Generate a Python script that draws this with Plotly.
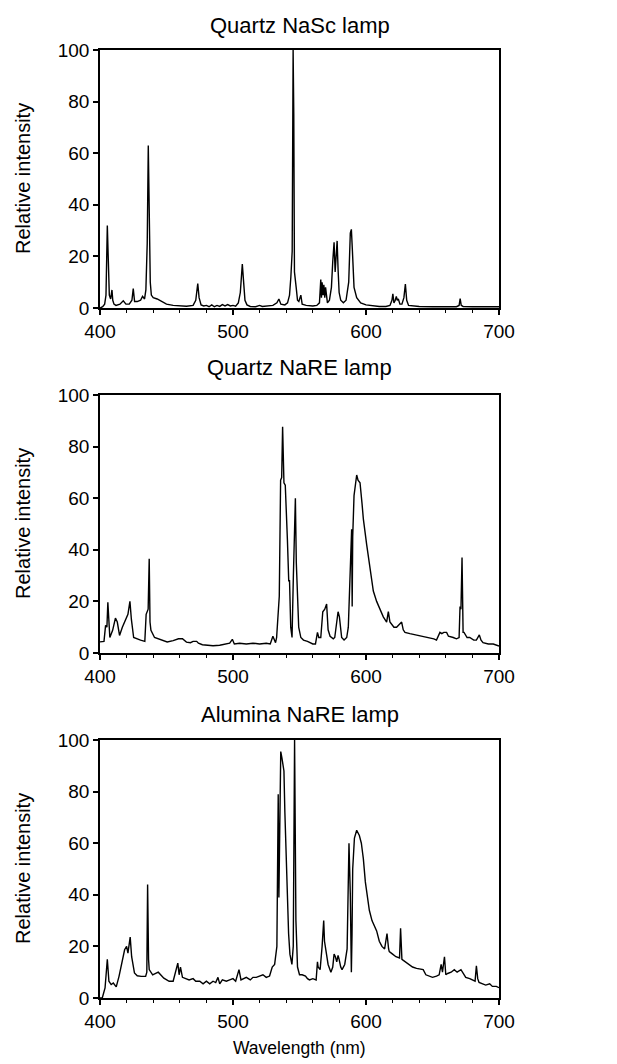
import plotly.graph_objects as go

# ---------------- data ----------------
titles = ["Quartz NaSc lamp", "Quartz NaRE lamp", "Alumina NaRE lamp"]
x_ticks = [400, 500, 600, 700]
y_ticks = [0, 20, 40, 60, 80, 100]

nasc_wl = [400, 402, 403.5, 404.5, 405.5, 406.3, 407, 408, 409, 409.6, 410.5, 412, 415, 417.5,
           419.5, 422, 424, 425, 426, 428, 430.5, 432, 433.5, 434.5, 435.5, 436.3, 437, 437.8,
           438.6, 440, 443, 446, 450, 455, 460, 465, 470, 472, 473.5, 474.5, 476, 478, 480, 482,
           484, 486, 488, 490, 492, 494, 496, 498, 500, 502, 504, 505.5, 507, 508, 509, 510.5,
           513, 517, 520, 522, 525, 530, 533, 534.5, 536, 539, 541, 542.5, 543.5, 544.5, 545.2,
           545.7, 546.2, 546.8, 547.5, 548.5, 549.5, 551, 552, 555, 560, 563, 565, 566, 566.5,
           567, 567.7, 568.3, 569, 569.6, 570.3, 571, 572.5, 574, 575, 576, 576.8, 577.6, 578.3,
           579, 579.8, 581, 583, 585, 587, 588.2, 589, 589.8, 591, 593, 596, 600, 605, 610, 615,
           618, 619.5, 620.2, 621, 622, 622.8, 623.5, 624.3, 625.5, 627, 628.5, 629.6, 630.6,
           632, 636, 640, 650, 660, 668, 670, 670.8, 671.6, 673, 680, 690, 700]
nasc_int = [0, 0.5, 1.5, 5, 32, 12, 5, 3.5, 7, 3, 1.5, 1, 1.5, 2.8,
            1.5, 1.5, 3, 7.5, 2.5, 2.5, 3, 4.5, 3.5, 7, 25, 63, 28, 10,
            5, 4, 3.5, 2.5, 1.5, 1, 0.8, 0.7, 1, 3, 9.5, 4, 1.2, 0.8, 1, 0.5,
            1.2, 0.5, 1, 0.6, 1.3, 0.8, 1.3, 0.8, 1, 0.7, 2, 6, 17, 8, 3, 1.2,
            0.6, 0.5, 1, 0.6, 0.8, 1, 2, 3.5, 1.5, 1.2, 2, 5, 12, 22, 100,
            75, 14, 12, 8, 3, 2.5, 5, 1.5, 1, 0.8, 1, 2, 11, 4,
            10, 5, 9, 4, 8, 3, 2, 3, 8, 18, 25.5, 14, 20, 26,
            15, 6, 3, 2, 3, 10, 29, 30.5, 22, 8, 4, 2, 1.2, 0.8, 0.6, 0.6,
            1, 3, 5.5, 2, 3, 4.5, 3, 3.5, 1.5, 1.5, 4, 9.3, 3,
            1, 0.7, 0.6, 0.5, 0.4, 0.5, 1, 3.6, 1, 0.6, 0.5, 0.4, 0.5]

qnare_wl = [400, 403, 404.2, 405.2, 405.9, 406.6, 407.4, 409.5, 411.6, 413, 414.7, 416.8, 419,
            421, 422.5, 423.6, 425.3, 427.4, 430.5, 433.7, 434.7, 436.2, 437, 437.6, 438.3, 441,
            446, 450.5, 455, 459, 462, 465, 468, 470, 472.7, 474, 477, 480,
            485, 490, 495, 497.5, 499.5, 501, 505, 510, 515, 520, 525, 528, 530, 531, 532,
            532.8, 533.8, 534.8, 535.8, 536.6, 537.3, 538.3, 539.3, 540.2, 540.9, 541.9, 542.5,
            543.4, 544.4, 545.4, 546.2, 546.9, 547.6, 548.4, 549.4, 551, 553, 556, 560, 562,
            563.5, 564.5, 566, 567.5, 569, 570.4, 571.5, 573, 575.4, 576.5, 578, 579, 580,
            581.7, 583.5, 585.5, 586.7, 588, 589.2, 589.6, 590, 591, 592, 593, 594, 595.5, 597,
            598, 600.5, 603, 605.5, 608, 610.5, 613, 615.5, 616.8, 618, 619.3, 621, 623, 625,
            626.8, 628, 629.3, 633, 638, 643, 648, 651, 653, 655.6, 657, 658.5, 660.6, 662,
            665.6, 668, 670, 670.7, 671.4, 672.2, 673, 673.7, 676, 678, 681, 683, 685.2, 686.5,
            688, 692, 695.7, 698, 700]
qnare_int = [4.3, 4.5, 10.7, 10, 19.7, 10, 6, 8.8, 13.5, 12, 6.8, 10, 12.6,
             15, 20, 13, 6, 5.5, 5, 4.5, 15, 17, 36.5, 12, 8.8, 6,
             5, 4.3, 4.8, 5.5, 5.5, 4.2, 4, 4.5, 4.5, 3.8, 3.2, 3,
             2.8, 3, 3.5, 3.8, 5.3, 3.5, 3.8, 3.5, 3.8, 3.5, 3.8, 3.5, 6.5, 5, 4,
             6, 13, 22, 67, 68, 87.7, 66, 65, 55, 44, 28, 28,
             10, 6, 30, 50, 60, 35, 25, 10, 6, 5, 4.5, 3.5, 3.5,
             8, 6, 6, 16, 17, 19, 9, 6.5, 5.5, 6, 12, 16, 14,
             6, 5, 6, 10, 30, 48, 18, 45, 61, 66, 69, 67, 66, 58,
             52, 42, 32, 24, 20, 17, 14, 12, 16, 12, 11, 10, 10, 11,
             12, 9, 8, 7.5, 7, 6.5, 6, 5.5, 5, 8, 7.5, 8, 8, 6.5,
             6, 5.5, 6, 18, 17, 37, 8, 8, 6, 6, 5, 5, 7, 5,
             4, 3.5, 3.5, 3, 2.7]

anare_wl = [400, 401.7, 403.8, 405.5, 406.7, 408.4, 410, 412.2, 414.3, 416.4, 418.5, 420, 421,
            422.7, 423.8, 425.9, 428, 431, 434.3, 435.2, 435.8, 436.5, 437, 439.6, 443.8, 448,
            452, 455, 457.5, 458.5, 459.5, 460.5, 462,
            465, 467, 470, 472, 475, 477.5, 480, 482.5, 485, 487, 488.7, 490, 492, 495, 497.5,
            500, 502, 503.5, 504.5, 506, 508, 510, 513, 515, 517.5, 520, 522.5, 525, 527.5,
            529.5, 531.3, 533, 533.6, 534, 534.5, 535.2, 535.9, 536.8, 537.6, 538.3, 539,
            540.7, 541.8, 542.8, 544.3, 545.3, 545.8, 546.3, 547.3, 548.5, 550, 552, 554.5, 556,
            557.5, 560, 562.5, 563.5, 564, 565.5, 567, 568.2, 568.8, 570, 571.5, 573.6, 575,
            576, 577, 578, 579, 579.8, 581, 582, 584, 585.8, 586.6, 587.2, 588.2, 588.6, 589,
            589.5, 590, 591.3, 593, 595, 596.5, 597.5, 598, 599.5, 601, 602.5, 604.5, 606.3,
            608, 610, 612, 614, 615.3, 615.8, 617, 617.5, 620, 622.5, 625.2, 626, 627, 630,
            635, 638, 642, 643, 645, 650, 653, 655, 656.5, 657.5, 659, 660, 661.4, 664, 666.4,
            668.5, 671.4, 673, 675, 678, 680, 682, 683, 684, 685, 688, 690, 693, 695, 698, 700]
anare_int = [0, 0, 3.9, 15, 6.5, 5.2, 5.8, 4.3, 8.4, 13, 18.7, 20, 17.4,
             23.6, 16, 9.7, 8.6, 8.4, 8.4, 10, 44, 15, 11, 9, 10, 7.7,
             6.5, 6.5, 11, 13.5, 9, 12, 8,
             7.5, 7, 7.5, 6.5, 6.5, 5.5, 6.5, 5.5, 6.5, 6, 8, 5.5, 7, 6.5, 7,
             7.5, 6.5, 9, 11, 7, 7.5, 8, 7, 8, 8, 8.5, 9, 8, 8.5,
             12, 13, 20, 45, 79, 39, 80, 95.5, 93, 91, 88, 72,
             42, 25, 17, 13, 20, 60, 100, 30, 12, 9, 9, 8.5, 7.5,
             7, 7.5, 7, 14, 12, 11, 20, 30, 22, 17, 13, 10, 12,
             17, 16, 14, 16.5, 15, 12, 11, 13, 19, 45, 60, 40, 30, 10,
             25, 50, 62, 65, 63, 60, 56, 54, 45, 40, 34, 30, 28,
             26, 22, 20, 19, 24, 25, 19, 18, 17, 16, 15.5, 27, 15, 14,
             12, 11.5, 11, 11, 9, 8, 8.5, 9, 13, 10, 16, 9, 9.5, 10, 11,
             10, 11, 9.5, 8, 7.5, 7, 6.5, 12.5, 7.5, 6, 5.5, 5, 5.5, 4.5, 4.5, 4]

series_wl = [nasc_wl, qnare_wl, anare_wl]
series_int = [nasc_int, qnare_int, anare_int]

# ---------------- layout geometry (window pixels) ----------------
# The page body adds an 8px margin, so the figure is drawn 8px smaller and
# every window-pixel position is shifted by that offset.
OFF = 8
W, H = 617 - OFF, 1064 - OFF
x_left, x_right = 100 - OFF, 499 - OFF
panels_px = [(50 - OFF, 308 - OFF), (395 - OFF, 653 - OFF), (740 - OFF, 998 - OFF)]
title_y_px = [25 - OFF, 367 - OFF, 714 - OFF]
ylabel_x_px = 23 - OFF
xlabel_y_px = 1048 - OFF
FONT = "Liberation Sans, Arial, Helvetica, sans-serif"


def py(p):
    return 1 - p / H


fig = go.Figure()
for i in range(3):
    sfx = "" if i == 0 else str(i + 1)
    fig.add_trace(go.Scatter(x=series_wl[i], y=series_int[i], mode="lines",
                             line=dict(color="black", width=1.4),
                             xaxis="x" + sfx, yaxis="y" + sfx, showlegend=False,
                             hoverinfo="skip"))
    top, bot = panels_px[i]
    common = dict(showline=True, linecolor="black", linewidth=1.5, mirror=True,
                  showgrid=False, zeroline=False, ticks="outside", tickcolor="black",
                  tickwidth=1.5, automargin=False,
                  tickfont=dict(family=FONT, size=19, color="black"))
    fig.update_layout(**{
        "xaxis" + sfx: dict(domain=[x_left / W, x_right / W], range=[400, 700],
                            anchor="y" + sfx, tickvals=x_ticks, ticklen=5,
                            minor=dict(dtick=20, ticklen=3, ticks="outside",
                                       tickcolor="black", tickwidth=1),
                            **common),
        "yaxis" + sfx: dict(domain=[py(bot), py(top)], range=[0, 100],
                            anchor="x" + sfx, tickvals=y_ticks, ticklen=5, **common),
    })
    fig.add_annotation(text=titles[i], x=(x_left + x_right) / 2 / W, y=py(title_y_px[i]),
                       xref="paper", yref="paper", xanchor="center", yanchor="middle",
                       showarrow=False, font=dict(family=FONT, size=22, color="black"))
    fig.add_annotation(text="Relative intensity", x=ylabel_x_px / W, y=py((top + bot) / 2),
                       xref="paper", yref="paper", xanchor="center", yanchor="middle",
                       textangle=-90, showarrow=False,
                       font=dict(family=FONT, size=20, color="black"))

fig.add_annotation(text="Wavelength (nm)", x=(x_left + x_right) / 2 / W, y=py(xlabel_y_px),
                   xref="paper", yref="paper", xanchor="center", yanchor="middle",
                   showarrow=False, font=dict(family=FONT, size=17.5, color="black"))

fig.update_layout(width=W, height=H, margin=dict(l=0, r=0, t=0, b=0, pad=0),
                  paper_bgcolor="white", plot_bgcolor="white")

fig.write_html("out.html")
